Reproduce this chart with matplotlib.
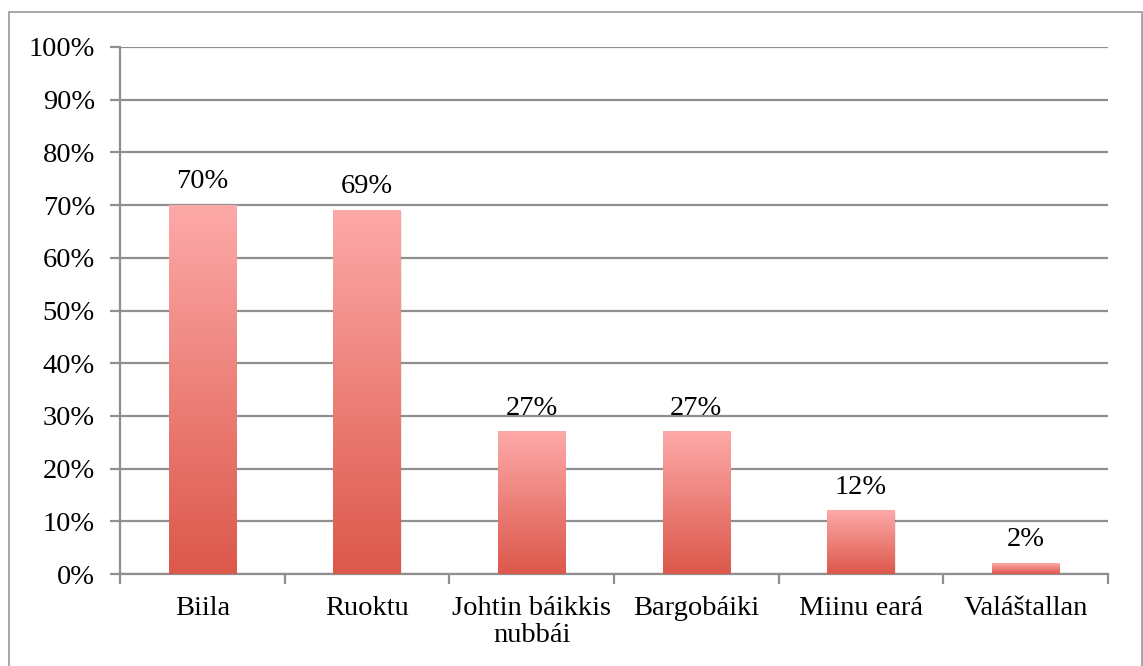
import numpy as np
import matplotlib.pyplot as plt
from matplotlib.colors import LinearSegmentedColormap
from matplotlib.patches import Rectangle

# Datos del gráfico
categorias = ['Biila', 'Ruoktu', 'Johtin báikkis\nnubbái', 'Bargobáiki', 'Miinu eará', 'Valáštallan']
valores = [70, 69, 27, 27, 12, 2]
etiquetas_y = ['0%', '10%', '20%', '30%', '40%', '50%', '60%', '70%', '80%', '90%', '100%']

plt.rcParams['font.family'] = ['Liberation Serif', 'DejaVu Serif']
tam = 20.5

fig = plt.figure(figsize=(11.43, 6.66), dpi=100)
ax = fig.add_axes([120/1143, (666-574)/666, (1108-120)/1143, (574-47)/666])

# Marco exterior
fig.patches.append(Rectangle((9/1143, -0.01), (1142-9)/1143, (666-12)/666 + 0.01,
                             transform=fig.transFigure, fill=False,
                             edgecolor='#a0a0a0', linewidth=1.3))

gris = '#8f8f8f'
x = np.arange(len(categorias))
barras = ax.bar(x, valores, width=0.41, color='none', zorder=3)

# Degradado de cada barra (claro arriba, oscuro abajo)
cmap = LinearSegmentedColormap.from_list('grad', ['#dc584b', '#fda9a8'])
grad = np.linspace(0, 1, 256).reshape(-1, 1)
for b in barras:
    x0, w, h = b.get_x(), b.get_width(), b.get_height()
    # sombra leve
    ax.add_patch(Rectangle((x0 + 0.006, -0.3), w, h, facecolor='#000000',
                           alpha=0.08, linewidth=0, zorder=2))
    ax.imshow(grad, extent=[x0, x0 + w, 0, h], origin='lower', cmap=cmap,
              aspect='auto', zorder=3, interpolation='bilinear')

for xi, v in zip(x, valores):
    ax.annotate(f'{v}%', (xi, v), xytext=(0, 8), textcoords='offset points',
                ha='center', va='bottom', fontsize=tam)

ax.set_xlim(-0.5, len(categorias) - 0.5)
ax.set_ylim(0, 100)
ax.set_yticks(np.arange(0, 101, 10))
ax.set_yticklabels(etiquetas_y, fontsize=tam)
ax.yaxis.grid(True, color=gris, linewidth=1.6, zorder=0)
ax.set_axisbelow(True)

ax.set_xticks(x)
ax.set_xticklabels(categorias, fontsize=tam, linespacing=1.1)
ax.set_xticks(np.arange(-0.5, len(categorias)), minor=True)
ax.tick_params(axis='x', which='major', length=0, pad=16)
ax.tick_params(axis='x', which='minor', length=7, width=1.6, color=gris, direction='out')
ax.tick_params(axis='y', length=7, width=1.6, color=gris, direction='out', pad=11)

for lado in ['top', 'right']:
    ax.spines[lado].set_visible(False)
ax.spines['left'].set_color(gris)
ax.spines['left'].set_linewidth(1.6)
ax.spines['bottom'].set_color(gris)
ax.spines['bottom'].set_linewidth(1.6)

fig.savefig('out.png', dpi=100)
